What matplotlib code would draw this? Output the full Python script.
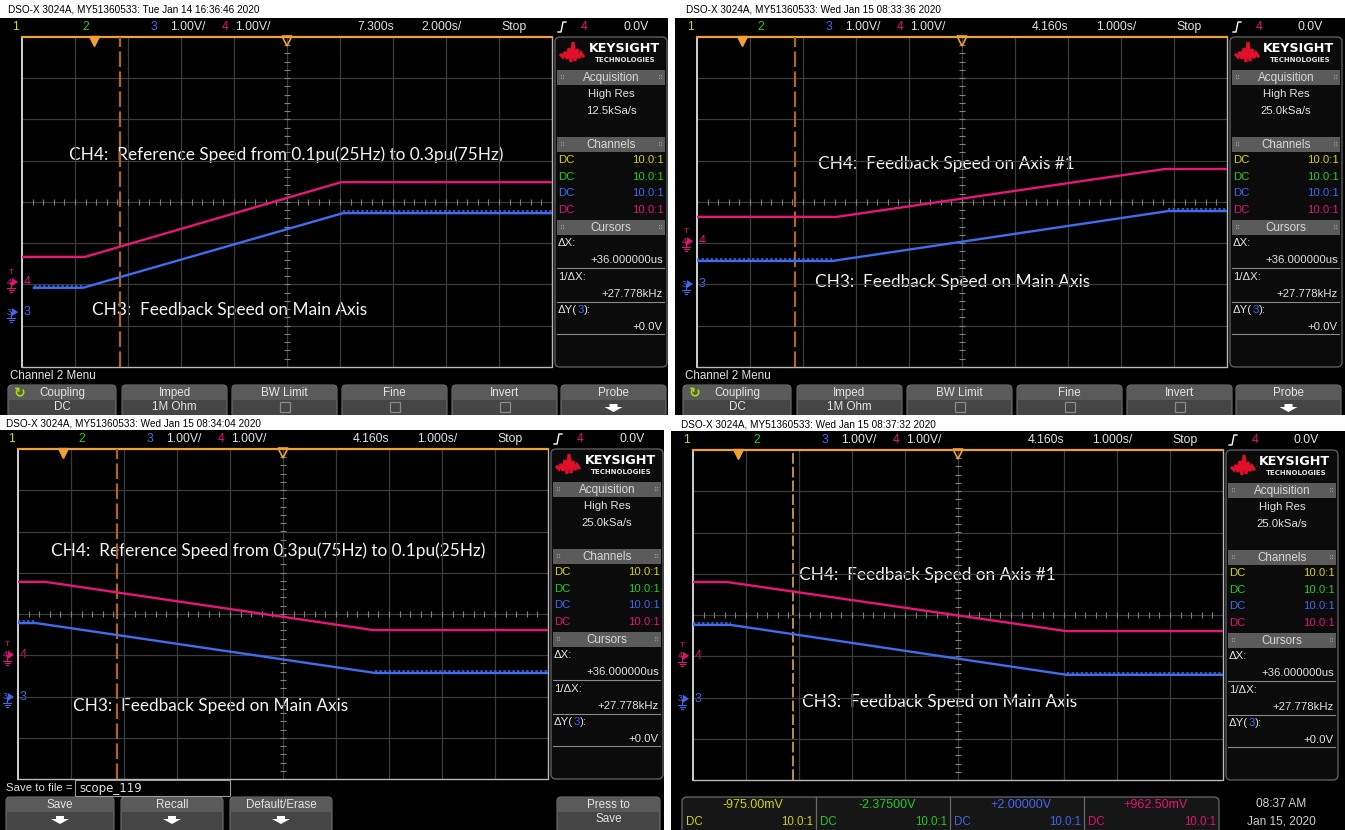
import numpy as np
import matplotlib
matplotlib.use("Agg")
import matplotlib.pyplot as plt
from matplotlib.patches import Rectangle, FancyBboxPatch, Polygon

# ---------------- data ----------------
panel_headers = [
    "DSO-X 3024A, MY51360533: Tue Jan 14 16:36:46 2020",
    "DSO-X 3024A, MY51360533: Wed Jan 15 08:33:36 2020",
    "DSO-X 3024A, MY51360533: Wed Jan 15 08:34:04 2020",
    "DSO-X 3024A, MY51360533: Wed Jan 15 08:37:32 2020",
]
delay_labels = ["7.300s", "4.160s", "4.160s", "4.160s"]
delay_s = [7.300, 4.160, 4.160, 4.160]
timebase_labels = ["2.000s/", "1.000s/", "1.000s/", "1.000s/"]
timebase_s = [2.0, 1.0, 1.0, 1.0]
sample_rates = ["12.5kSa/s", "25.0kSa/s", "25.0kSa/s", "25.0kSa/s"]
ch4_notes = [
    "CH4:  Reference Speed from 0.1pu(25Hz) to 0.3pu(75Hz)",
    "CH4:  Feedback Speed on Axis #1",
    "CH4:  Reference Speed from 0.3pu(75Hz) to 0.1pu(25Hz)",
    "CH4:  Feedback Speed on Axis #1",
]
ch3_notes = [
    "CH3:  Feedback Speed on Main Axis",
    "CH3:  Feedback Speed on Main Axis",
    "CH3:  Feedback Speed on Main Axis",
    "CH3:  Feedback Speed on Main Axis",
]
# channel ground positions (divisions from screen centre), cursor time (s)
ch4_ground_div = [-1.94, -0.95, -0.99, -0.99]
ch3_ground_div = [-2.67, -1.99, -2.01, -2.03]
cursor_t = [1.00, 1.01, 1.03, 1.04]

# waveform vertices: time (s from trigger), volts above channel ground
p1_ch4_t = [-2.70, -0.32, 9.34, 17.30]
p1_ch4_v = [0.61, 0.61, 2.42, 2.42]
p1_ch3_t = [-2.25, -0.40, 9.41, 17.30]
p1_ch3_v = [0.59, 0.59, 2.40, 2.40]
p2_ch4_t = [-0.84, 1.80, 7.99, 9.16]
p2_ch4_v = [0.59, 0.59, 1.75, 1.75]
p2_ch3_t = [-0.84, 1.71, 8.05, 9.16]
p2_ch3_v = [0.56, 0.56, 1.77, 1.77]
p3_ch4_t = [-0.84, -0.33, 5.86, 9.16]
p3_ch4_v = [1.77, 1.77, 0.60, 0.60]
p3_ch3_t = [-0.84, -0.50, 5.90, 9.16]
p3_ch3_v = [1.79, 1.79, 0.58, 0.58]
p4_ch4_t = [-0.84, -0.20, 6.20, 9.16]
p4_ch4_v = [1.79, 1.79, 0.60, 0.60]
p4_ch3_t = [-0.84, -0.13, 6.21, 9.16]
p4_ch3_v = [1.79, 1.79, 0.58, 0.58]

offset_readouts = ["-975.00mV", "-2.37500V", "+2.00000V", "+962.50mV"]
probe_ratio = "10.0:1"
menu_buttons = [("Coupling", "DC"), ("Imped", "1M Ohm"), ("BW Limit", ""),
                ("Fine", ""), ("Invert", ""), ("Probe", "")]

# ---------------- styling ----------------
W, H = 1345, 830
UI = ["Liberation Sans", "DejaVu Sans"]
ANN = ["Lato", "DejaVu Sans"]
C1, C2, C3, C4 = "#d4d400", "#22cc22", "#4466ee", "#e0127a"
TR3, TR4 = "#3f6df0", "#e8157a"
ORANGE = "#f0a035"

fig = plt.figure(figsize=(W / 100, H / 100), dpi=100, facecolor="white")
bg = fig.add_axes([0, 0, 1, 1])
bg.set_xlim(0, W)
bg.set_ylim(H, 0)
bg.axis("off")
renderer = fig.canvas.get_renderer()


def txt(x, y, s, size=8, color="#e2e2e2", ha="left", va="center", family=UI,
        weight="normal", zorder=5):
    return bg.text(x, y, s, fontsize=size, color=color, ha=ha, va=va,
                   family=family, fontweight=weight, zorder=zorder)


def seq_txt(x, y, parts, size=8):
    for s, col in parts:
        t = txt(x, y, s, size, col)
        x += t.get_window_extent(renderer).width


def rbox(x0, y0, w, h, fc, ec, r=4, lw=0.8, z=2):
    bg.add_patch(FancyBboxPatch((x0, y0), w, h,
                                boxstyle=f"round,pad=0,rounding_size={r}",
                                fc=fc, ec=ec, lw=lw, zorder=z))


def down_arrow(cx, cy, s=1.0):
    pts = [(cx - 4 * s, cy - 4 * s), (cx + 4 * s, cy - 4 * s), (cx + 4 * s, cy - 1 * s),
           (cx + 9 * s, cy - 1 * s), (cx, cy + 4 * s), (cx - 9 * s, cy - 1 * s),
           (cx - 4 * s, cy - 1 * s)]
    bg.add_patch(Polygon(pts, closed=True, fc="white", ec="none", zorder=6))


def button(x0, x1, y0, y1, l1, l2="", arrow=False, checkbox=False, icon=None):
    rbox(x0, y0, x1 - x0, y1 - y0, "#454545", "#707070", r=4, lw=0.8, z=3)
    bg.add_patch(Rectangle((x0 + 1, y0 + 1), x1 - x0 - 2, 14,
                           fc="#5a5a5a", ec="none", zorder=3))
    cx = (x0 + x1) / 2
    txt(cx, y0 + 7.5, l1, 8.4, "#e4e4e4", ha="center")
    if l2:
        txt(cx, y0 + 21.5, l2, 8.4, "#e4e4e4", ha="center")
    if arrow:
        down_arrow(cx, y0 + 23)
    if checkbox:
        bg.add_patch(Rectangle((cx - 5, y0 + 17), 10, 10, fc="none", ec="#8a8a8a",
                               lw=0.9, zorder=6))
    if icon is not None:
        txt(x0 + 12, y0 + 8, "↻", 10, icon, ha="center", family=["DejaVu Sans"],
            weight="bold")


GX0, GX1, GY0, GY1 = 22, 552, 37, 367          # graticule of panel 1
DIVH = (GY1 - GY0) / 8.0
offsets = [(0, 0), (675, 0), (-4, 412), (671, 413)]
waves = [
    (p1_ch4_t, p1_ch4_v, p1_ch3_t, p1_ch3_v),
    (p2_ch4_t, p2_ch4_v, p2_ch3_t, p2_ch3_v),
    (p3_ch4_t, p3_ch4_v, p3_ch3_t, p3_ch3_v),
    (p4_ch4_t, p4_ch4_v, p4_ch3_t, p4_ch3_v),
]
note_pos = [((286, 155), (230, 310)), ((946, 164), (953, 282)),
            ((268, 551), (211, 706)), ((927, 575), (940, 702))]
cursor_cols = ["#b0651f", "#b0651f", "#b0651f", "#f2b25a"]

# white band between the top and bottom screenshots
bg.add_patch(Rectangle((0, 415), W, 15, fc="white", ec="none", zorder=8))

for i in range(4):
    dx, dy = offsets[i]
    # black screen
    x_right = 668 + dx if i in (0, 2) else W
    x_left = max(0, dx)
    y_bot = 415 if i < 2 else H
    bg.add_patch(Rectangle((x_left, 18 + dy), x_right - x_left, y_bot - 18 - dy,
                           fc="black", ec="none", zorder=1))
    # header line on white
    txt(8 + dx + (3 if i == 1 else 0) + (2 if i >= 2 else 0), 9 + dy + (2 if i >= 2 else 0),
        panel_headers[i], 7.2, "black", zorder=9)
    # status bar
    sy = 27 + dy
    fs = 8.8
    txt(12 + dx, sy, "1", fs, C1)
    txt(82 + dx, sy, "2", fs, C2)
    txt(151 + dx, sy, "3", fs, C3)
    txt(170 + dx, sy, "1.00V/", fs)
    txt(222 + dx, sy, "4", fs, C4)
    txt(235 + dx, sy, "1.00V/", fs)
    txt(357 + dx, sy, delay_labels[i], fs)
    txt(421 + dx, sy, timebase_labels[i], fs)
    txt(501 + dx, sy, "Stop", fs)
    bg.plot([558 + dx, 561 + dx, 563 + dx, 566 + dx], [sy + 5, sy + 5, sy - 5, sy - 5],
            color="white", lw=1, zorder=5)
    txt(581 + dx, sy, "4", fs, C4)
    txt(623 + dx, sy, "0.0V", fs)

    # graticule axes
    gx0, gx1, gy0, gy1 = GX0 + dx, GX1 + dx, GY0 + dy, GY1 + dy
    tb = timebase_s[i]
    tl = delay_s[i] - 5 * tb
    tr = delay_s[i] + 5 * tb
    ax = fig.add_axes([gx0 / W, 1 - gy1 / H, (gx1 - gx0) / W, (gy1 - gy0) / H])
    ax.set_xlim(tl, tr)
    ax.set_ylim(-4, 4)
    ax.axis("off")
    ax.patch.set_alpha(0)
    for k in range(1, 10):
        ax.axvline(tl + k * tb, color="#3c3c3c", lw=0.9, zorder=1)
    for k in range(-3, 4):
        ax.axhline(k, color="#3c3c3c", lw=0.9, zorder=1)
    tc = delay_s[i]
    ax.plot(tl + np.arange(0, 10.01, 0.2) * tb, np.zeros(51), ls="none", marker="|",
            ms=4, color="#808080", mew=0.8, zorder=2)
    ax.plot(np.full(41, tc), np.arange(-4, 4.01, 0.2), ls="none", marker="_",
            ms=4, color="#808080", mew=0.8, zorder=2)
    ax.plot([tl, tl], [-4, 4], color="#e0e0e0", lw=1.3, clip_on=False, zorder=3)
    ax.plot([tl, tr, tr], [-4, -4, 4], color="#b8b8b8", lw=1.0, clip_on=False, zorder=3)
    ax.plot([tl, tr], [4, 4], color=ORANGE, lw=1.6, clip_on=False, zorder=3)
    ax.plot([0], [3.9], marker="v", ms=7, color=ORANGE, clip_on=False, zorder=4)
    ax.plot([tc], [3.9], marker="v", ms=7, mfc="none", mec=ORANGE, mew=1.2,
            clip_on=False, zorder=4)
    # cursor
    ax.axvline(cursor_t[i], color=cursor_cols[i], lw=1.6 if i < 3 else 1.1,
               ls=(0, (7, 2)), zorder=3)
    # traces
    t4, v4, t3, v3 = waves[i]
    y4 = np.array(v4) + ch4_ground_div[i]
    y3 = np.array(v3) + ch3_ground_div[i]
    ax.plot(t4, y4, color=TR4, lw=1.7, zorder=5)
    ax.plot(t3, y3, color=TR3, lw=1.7, zorder=5)
    # quantisation ripple look on the flat parts of CH3
    for a in (0, 2):
        ax.plot(t3[a:a + 2], y3[a:a + 2] + 0.045, color=TR3, lw=1.1,
                ls=(0, (1.5, 1.5)), zorder=5)

    # ground markers
    yc = (gy0 + gy1) / 2
    for ch, g, col in ((4, ch4_ground_div[i], C4), (3, ch3_ground_div[i], C3)):
        yy = yc - g * DIVH
        txt(gx0 - 13, yy, str(ch), 6.5, col, ha="center")
        bg.add_patch(Polygon([(gx0 - 10, yy - 4), (gx0 - 10, yy + 4), (gx0 - 4, yy)],
                             fc=col, ec="none", zorder=6))
        bg.plot([gx0 - 11, gx0 - 11], [yy, yy + 6], color=col, lw=0.8, zorder=6)
        for j, hw in enumerate((4, 2.5, 1)):
            bg.plot([gx0 - 11 - hw, gx0 - 11 + hw], [yy + 6 + 2 * j] * 2, color=col,
                    lw=0.8, zorder=6)
        txt(gx0 + 2, yy, str(ch), 9, col)
        if ch == 4:
            txt(gx0 - 11, yy - 10, "T", 6, col, ha="center")

    # annotations
    for (px, py), s in zip(note_pos[i], (ch4_notes[i], ch3_notes[i])):
        bg.text(px, py, s, fontsize=12.4, color="#f4f4f4", ha="center",
                va="center", family=ANN, zorder=7)

    # side panel
    rbox(555 + dx, 37 + dy, 112, 330, "#0b0b0b", "#5e5e5e", r=5, lw=1.0, z=2)
    bg.plot([561 + dx, 563 + dx, 565 + dx, 567 + dx, 569 + dx, 571 + dx, 573 + dx,
             575 + dx, 577 + dx, 579 + dx, 581 + dx, 583 + dx],
            [55 + dy, 57 + dy, 52 + dy, 59 + dy, 48 + dy, 62 + dy, 42 + dy, 61 + dy,
             49 + dy, 58 + dy, 53 + dy, 56 + dy],
            color="#e0102a", lw=2.2, zorder=6, solid_joinstyle="miter")
    txt(624 + dx, 48 + dy, "KEYSIGHT", 9.2, "white", ha="center",
        family=["DejaVu Sans"], weight="bold")
    txt(625 + dx, 60 + dy, "TECHNOLOGIES", 5.0, "#e0e0e0", ha="center",
        family=["DejaVu Sans"], weight="bold")
    for yb, lab in ((70, "Acquisition"), (137, "Channels"), (220, "Cursors")):
        bg.add_patch(Rectangle((557 + dx, yb + dy), 108, 15, fc="#5b5b5b", ec="none",
                               zorder=4))
        txt(611 + dx, yb + 7.5 + dy, lab, 8.4, "#d8d8d8", ha="center")
        txt(560 + dx, yb + 7.5 + dy, "⠿", 5, "#9a9a9a", ha="left", family=["DejaVu Sans"])
        txt(663 + dx, yb + 7.5 + dy, "⠿", 5, "#9a9a9a", ha="right", family=["DejaVu Sans"])
    txt(611 + dx, 94 + dy, "High Res", 8.2, ha="center")
    txt(611 + dx, 111 + dy, sample_rates[i], 8.2, ha="center")
    for j, col in enumerate((C1, C2, C3, C4)):
        yy = 160 + 16.6 * j + dy
        txt(558 + dx, yy, "DC", 8.2, col)
        txt(664 + dx, yy, probe_ratio, 8.2, col, ha="right")
    txt(558 + dx, 243 + dy, "ΔX:", 8.2)
    txt(663 + dx, 260 + dy, "+36.000000us", 8.2, ha="right")
    txt(558 + dx, 277 + dy, "1/ΔX:", 8.2)
    txt(663 + dx, 294 + dy, "+27.778kHz", 8.2, ha="right")
    seq_txt(558 + dx, 310 + dy, [("ΔY(", "#e2e2e2"), ("3", C3), ("):", "#e2e2e2")], 8.2)
    txt(663 + dx, 327 + dy, "+0.0V", 8.2, ha="right")
    for yl in (268, 302, 334):
        bg.plot([557 + dx, 664 + dx], [yl + dy, yl + dy], color="#8a8a8a", lw=0.8, zorder=4)

    # bottom area
    if i < 2:
        txt(10 + dx, 376 + dy, "Channel 2 Menu", 8.4)
        bx = [(8, 116), (122, 227), (232, 337), (342, 447), (452, 557), (561, 666)]
        for j, ((a, b), (l1, l2)) in enumerate(zip(bx, menu_buttons)):
            button(a + dx, b + dx, 385, 422, l1, l2,
                   arrow=(j == 5), checkbox=(j in (2, 3, 4)),
                   icon=("#a8e000" if j == 0 else ("#5a5a5a" if j == 1 else None)))
    elif i == 2:
        txt(6, 788, "Save to file =", 8.2)
        bg.add_patch(Rectangle((75, 780), 155, 16, fc="black", ec="#9a9a9a", lw=0.8, zorder=4))
        txt(79, 788, "scope_119", 8.5, family=["DejaVu Sans"])
        for (a, b), lab in zip([(6, 114), (121, 223), (230, 332)],
                               ["Save", "Recall", "Default/Erase"]):
            button(a, b, 797, 840, lab, arrow=True)
        button(557, 660, 797, 840, "Press to", "Save")
    else:
        rbox(682, 797, 537, 40, "#161616", "#6a6a6a", r=5, lw=0.9, z=3)
        seps = [682, 816, 950, 1084, 1219]
        for j, col in enumerate((C1, C2, C3, C4)):
            a, b = seps[j], seps[j + 1]
            if j > 0:
                bg.plot([a, a], [797, 830], color="#6a6a6a", lw=0.9, zorder=4)
            txt((a + b) / 2 + 4, 805, offset_readouts[j], 9, col, ha="center")
            txt(a + 4, 822, "DC", 8.3, col)
            txt(b - 3, 822, probe_ratio, 8.3, col, ha="right")
        txt(1281, 804, "08:37 AM", 8.6, "#d0d0d0", ha="center")
        txt(1281, 821, "Jan 15, 2020", 8.6, "#d0d0d0", ha="center")

fig.savefig("out.png", dpi=100, facecolor="white")
